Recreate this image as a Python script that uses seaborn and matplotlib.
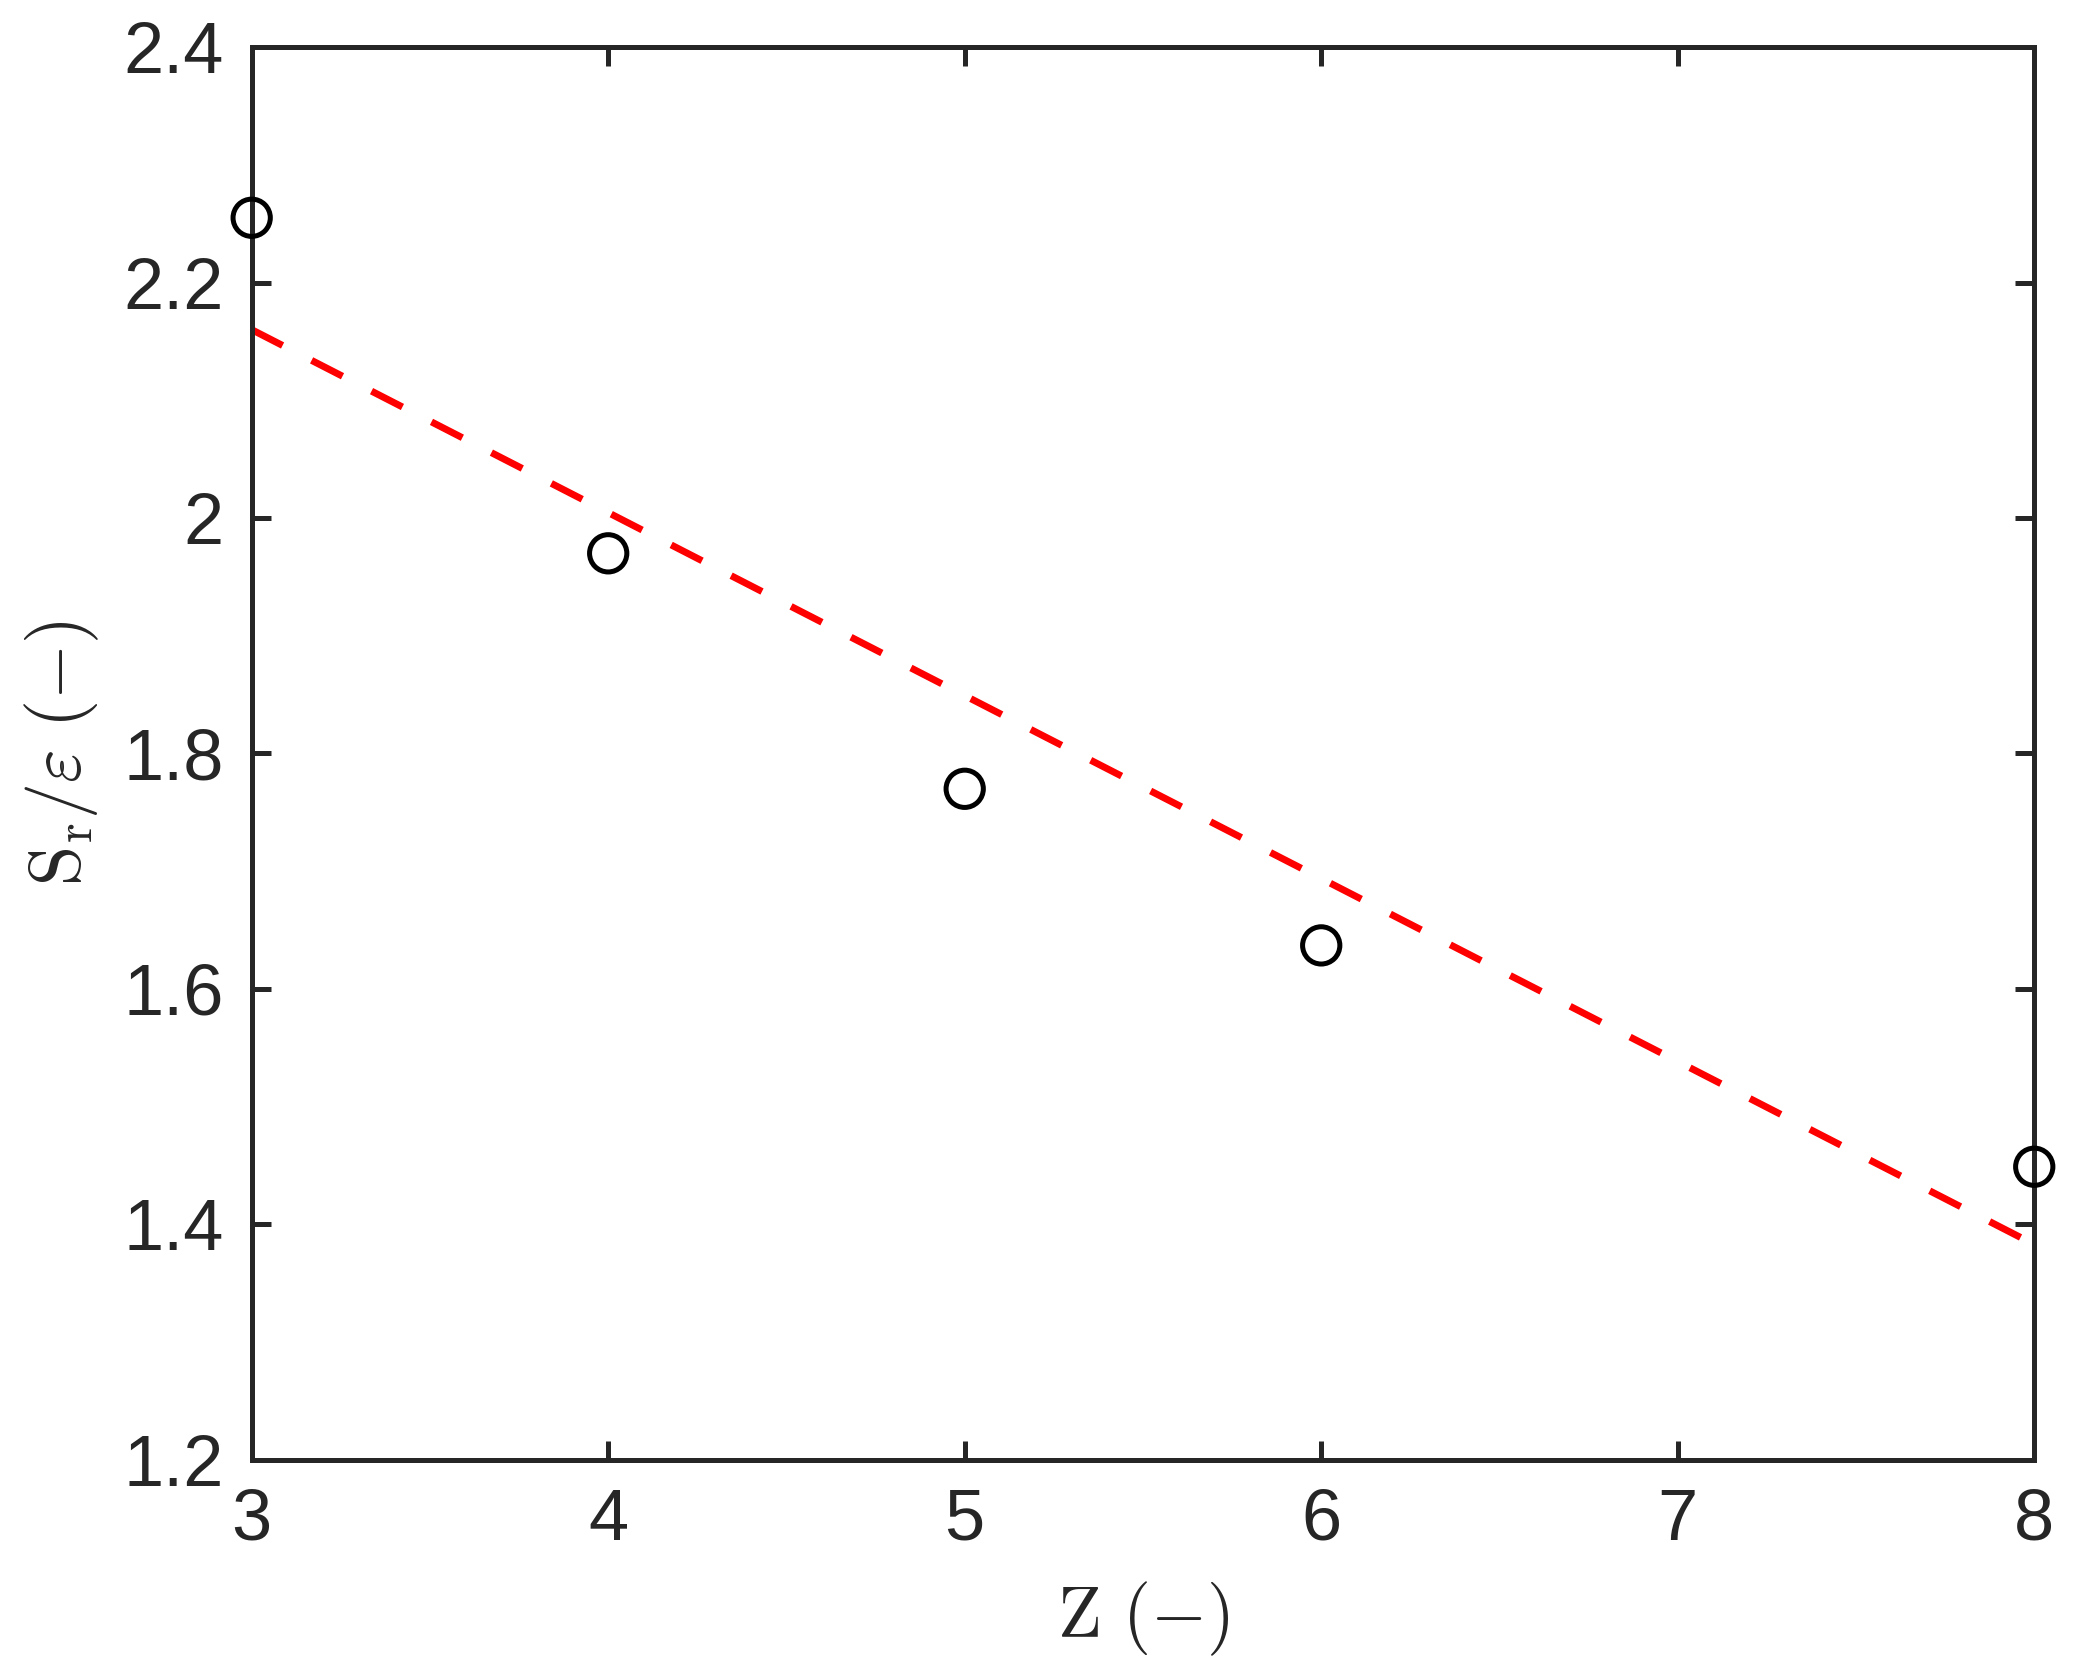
import numpy as np
import pandas as pd
import seaborn as sns
import matplotlib.pyplot as plt

# measured points
z_vals = [3, 4, 5, 6, 8]
sr_eps = [2.255, 1.970, 1.770, 1.637, 1.449]

# fitted line end points
fit_z = [3, 8]
fit_sr = [2.160, 1.383]

xticks = [3, 4, 5, 6, 7, 8]
yticks = [1.2, 1.4, 1.6, 1.8, 2.0, 2.2, 2.4]
ytick_labels = ["1.2", "1.4", "1.6", "1.8", "2", "2.2", "2.4"]

sns.set_style("ticks")
plt.rcParams["font.family"] = ["Liberation Sans", "DejaVu Sans"]
plt.rcParams["mathtext.fontset"] = "cm"

dark = "#262626"

fig = plt.figure(figsize = (10.4, 8.4), dpi = 200)
ax = fig.add_axes([0.121, 0.131, 0.857, 0.841])

pts = pd.DataFrame({"Z": z_vals, "S": sr_eps})
fit = pd.DataFrame({"Z": fit_z, "S": fit_sr})

# fitted trend, red dashed
sns.lineplot(data = fit, x = "Z", y = "S", ax = ax, color = "red", linewidth = 2.5,
             linestyle = (0, (5, 4.7)), zorder = 2)
# open circles, not clipped at the box edges
sns.scatterplot(data = pts, x = "Z", y = "S", ax = ax, marker = "o", s = 180,
                facecolors = "none", edgecolors = "black", linewidth = 1.8,
                clip_on = False, zorder = 5)

ax.set_xlim(3, 8)
ax.set_ylim(1.2, 2.4)
ax.set_xticks(xticks)
ax.set_xticklabels([str(t) for t in xticks])
ax.set_yticks(yticks)
ax.set_yticklabels(ytick_labels)

for side in ["top", "right", "left", "bottom"]:
    ax.spines[side].set_visible(True)
    ax.spines[side].set_linewidth(1.8)
    ax.spines[side].set_color(dark)

ax.tick_params(direction = "in", length = 7, width = 1.8, color = dark, labelcolor = dark,
               labelsize = 26, top = True, right = True, pad = 10)

ax.set_xlabel(r"$\mathrm{Z}\ (-)$", fontsize = 26, color = dark, labelpad = 9)
ax.set_ylabel(r"$\mathrm{S_r}/\varepsilon\ (-)$", fontsize = 26, color = dark, labelpad = 8)

fig.savefig("out.png", dpi = 200)
